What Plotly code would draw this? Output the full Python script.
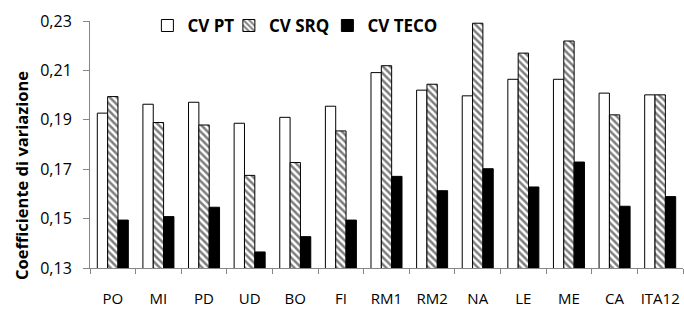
import plotly.graph_objects as go

categories = ["PO", "MI", "PD", "UD", "BO", "FI", "RM1", "RM2", "NA", "LE", "ME", "CA", "ITA12"]
cv_pt = [0.1927, 0.1963, 0.1971, 0.1886, 0.1910, 0.1955, 0.2091, 0.2020, 0.1997, 0.2064, 0.2064, 0.2008, 0.2001]
cv_srq = [0.1994, 0.1889, 0.1879, 0.1675, 0.1727, 0.1855, 0.2119, 0.2044, 0.2291, 0.2170, 0.2219, 0.1920, 0.2001]
cv_teco = [0.1494, 0.1508, 0.1546, 0.1365, 0.1427, 0.1494, 0.1671, 0.1613, 0.1702, 0.1628, 0.1729, 0.1550, 0.1589]
y_ticks = [0.13, 0.15, 0.17, 0.19, 0.21, 0.23]
y_title = "Coefficiente di variazione"

FONT = "Open Sans"
LEG_FONT = dict(family=FONT, size=17, color="black", weight="bold")

fig = go.Figure()
fig.add_trace(go.Bar(name="CV PT", x=categories, y=cv_pt, legend="legend",
                     marker=dict(color="white", line=dict(color="black", width=1))))
fig.add_trace(go.Bar(name="CV SRQ", x=categories, y=cv_srq, legend="legend2",
                     marker=dict(color="white", line=dict(color="black", width=1),
                                 pattern=dict(shape="\\", fgcolor="black", bgcolor="white",
                                              size=5, solidity=0.5))))
fig.add_trace(go.Bar(name="CV TECO", x=categories, y=cv_teco, legend="legend3",
                     marker=dict(color="black", line=dict(color="black", width=1))))

def leg(x):
    return dict(orientation="h", xref="paper", yref="paper", x=x, y=0.98,
                xanchor="left", yanchor="middle", font=LEG_FONT, itemwidth=30,
                bgcolor="rgba(0,0,0,0)")

fig.update_layout(
    width=684, height=309,
    margin=dict(l=90, r=1, t=21, b=41, autoexpand=False),
    plot_bgcolor="white", paper_bgcolor="white",
    separators=",.",
    barmode="group", bargap=0.32, bargroupgap=0,
    font=dict(family=FONT, size=16, color="black"),
    showlegend=True,
    legend=leg(0.0968), legend2=leg(0.2342), legend3=leg(0.4003),
)
fig.add_annotation(text=y_title, xref="paper", yref="paper", x=-0.1164, y=0.3765,
                   xanchor="center", yanchor="middle", textangle=-90, showarrow=False,
                   font=dict(family=FONT, size=16.5, color="black", weight="bold"))
fig.update_yaxes(range=[0.13, 0.23], tickvals=y_ticks, tickformat=".2f",
                 showgrid=False, showline=True, linecolor="#868686", linewidth=1,
                 ticks="outside", ticklen=6, tickcolor="#868686",
                 ticklabelstandoff=8, automargin=False, zeroline=False)
fig.update_xaxes(showgrid=False, showline=True, linecolor="#868686", linewidth=1,
                 ticks="outside", ticklen=5, tickcolor="#868686", tickson="boundaries",
                 tickangle=0, automargin=False,
                 ticklabelstandoff=17, tickfont=dict(size=15))

fig.write_html("out.html", post_script="document.body.style.margin='0';",
               config={"displayModeBar": False})
